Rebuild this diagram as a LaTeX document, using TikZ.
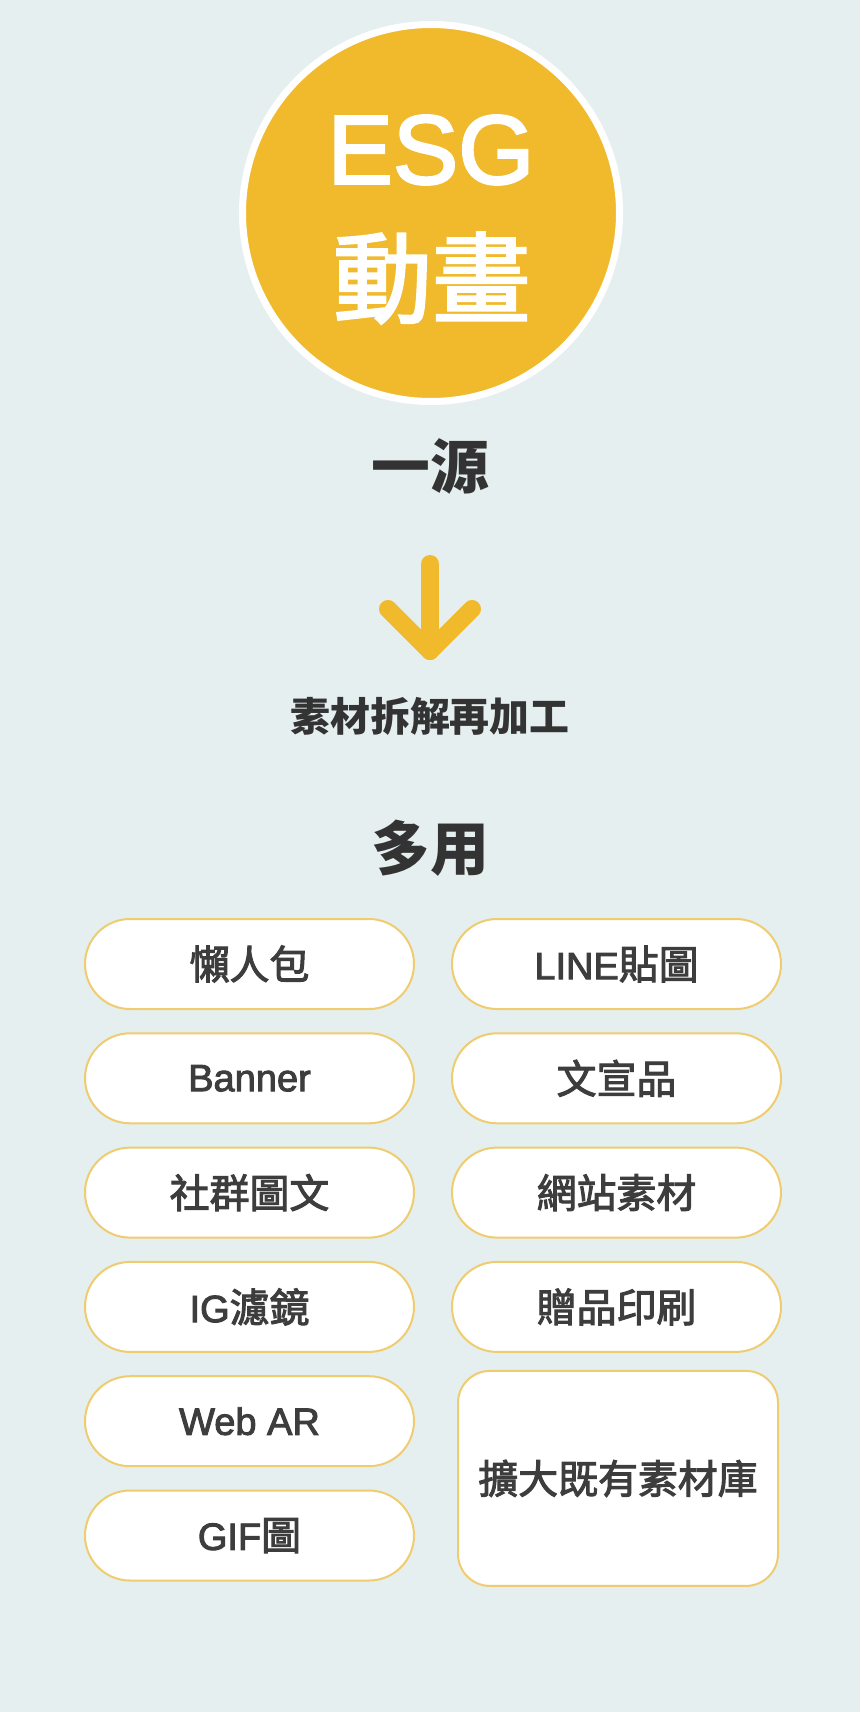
\documentclass[tikz,border=0pt]{standalone}
\usepackage{fontspec}
\setmainfont{Liberation Sans}
\newfontfamily\cjk[Scale=1.05]{Noto Sans CJK TC}
\newfontfamily\cjkm[Scale=1.05,FakeBold=2.5]{Noto Sans CJK TC}
\newfontfamily\latm[FakeBold=2.5]{Liberation Sans}
\usepackage{xcolor}
\usepackage{tikz}
\usetikzlibrary{positioning,calc}
\definecolor{esg_yel}{RGB}{240,186,44}
\definecolor{esg_rim}{RGB}{239,204,112}
\definecolor{esg_bg}{RGB}{230,239,239}
\definecolor{esg_txt}{RGB}{51,51,51}
\definecolor{box_txt}{RGB}{61,61,61}

\begin{document}
\begin{tikzpicture}[
x=1pt,y=-1pt,
disc/.style={
  circle,
  fill=esg_yel,
  draw=white,
  line width=7pt,
  minimum size=377pt,
  inner sep=0pt
  },
wht/.style={
  text=white,
  inner sep=0pt
  },
ttl/.style={
  text=esg_txt,
  inner sep=0pt,
  font=\cjk\bfseries\fontsize{56}{56}\selectfont
  },
sub/.style={
  text=esg_txt,
  inner sep=0pt,
  font=\cjk\bfseries\fontsize{38}{38}\selectfont
  },
pill/.style={
  draw=esg_rim,
  fill=white,
  line width=2pt,
  rounded corners=45pt,
  minimum width=329pt,
  minimum height=90pt,
  inner sep=0pt,
  outer sep=0pt,
  text=box_txt,
  font=\latm\fontsize{38}{38}\selectfont
  },
arw/.style={
  draw=esg_yel,
  line width=18pt,
  line cap=round,
  line join=round
  },
node distance=24.3pt and 38pt
]

%Background
\fill[esg_bg] (0,0) rectangle (860,1712);

%The circle on top
\node[disc] (esg) at (431,213) {};
\node[wht,font=\latm\fontsize{98}{98}\selectfont] (esgname) at (431,150)
  {ESG};
\node[wht,font=\cjkm\fontsize{94}{94}\selectfont] (anim) at (432,278)
  {動畫};

\node[ttl] (src) at (430,466)
  {一源};

%Arrow
\coordinate (stemtop) at (430,564);
\coordinate (tip) at (430,651);
\coordinate (wingl) at (388,609);
\coordinate (wingr) at (472,609);
\draw[arw] (stemtop) -- (tip);
\draw[arw] (wingl) -- (tip) -- (wingr);

\node[sub] (remix) at (430,716)
  {素材拆解再加工};
\node[ttl] (multi) at (430,848)
  {多用};

%The nodes for the left
\node[pill] (lazy) at (249.5,964)
  {\cjkm 懶人包};
\node[pill,below=of lazy] (banner)
  {Banner};
\node[pill,below=of banner] (social)
  {\cjkm 社群圖文};
\node[pill,below=of social] (igfilter)
  {IG{\cjkm 濾鏡}};
\node[pill,below=of igfilter] (webar)
  {Web AR};
\node[pill,below=of webar] (gif)
  {GIF{\cjkm 圖}};

%The nodes for the right
\node[pill,right=of lazy] (line)
  {LINE{\cjkm 貼圖}};
\node[pill,right=of banner] (print)
  {\cjkm 文宣品};
\node[pill,right=of social] (web)
  {\cjkm 網站素材};
\node[pill,right=of igfilter] (gift)
  {\cjkm 贈品印刷};
\node[pill,rounded corners=32pt,minimum width=320pt,minimum height=215pt,
  below=19pt of gift,xshift=1.5pt] (lib)
  {\cjkm 擴大既有素材庫};

\end{tikzpicture}
\end{document}
